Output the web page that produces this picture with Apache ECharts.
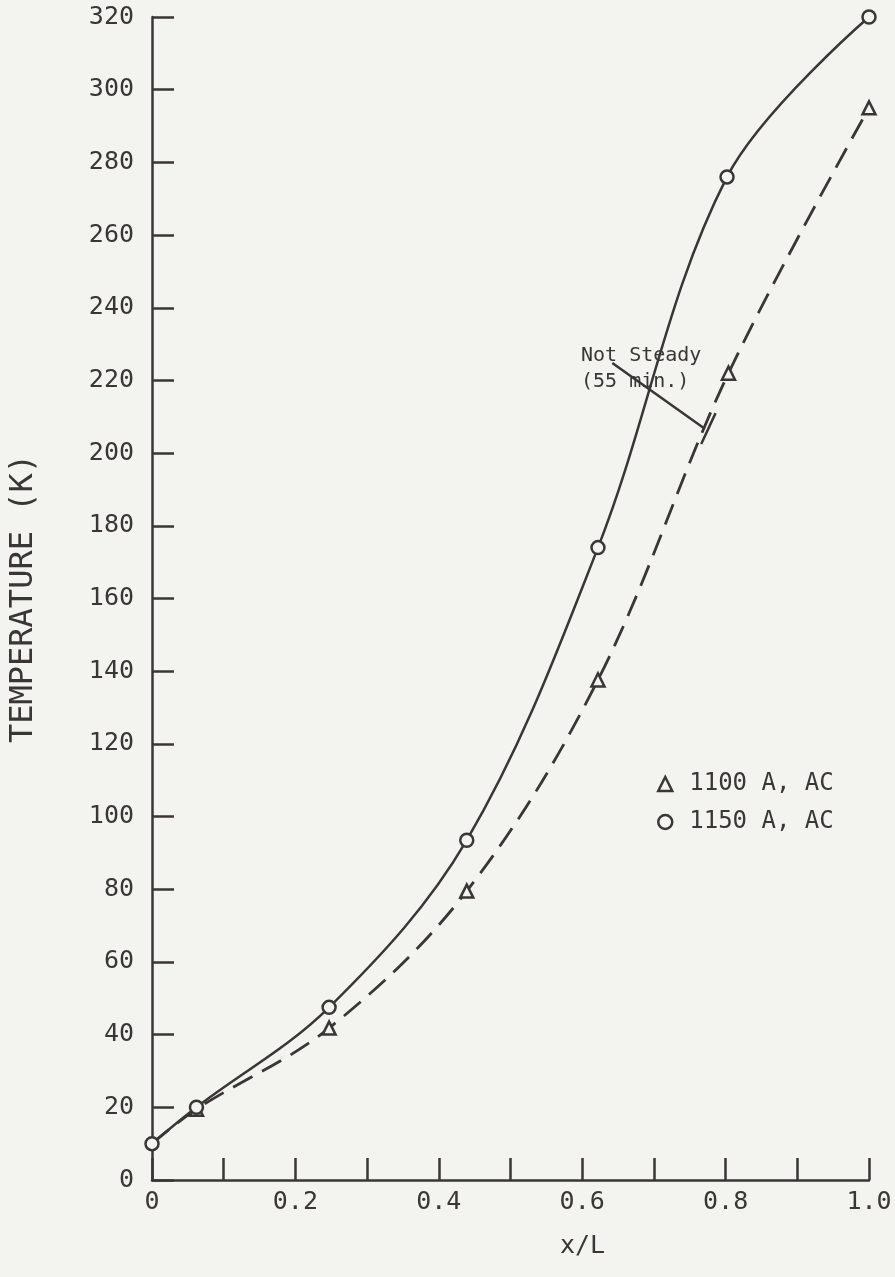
<!DOCTYPE html>
<html>
<head>
<meta charset="utf-8">
<script src="https://cdn.jsdelivr.net/npm/echarts@6/dist/echarts.min.js"></script>
<style>
  html, body { margin: 0; padding: 0; background: #f3f3ef; }
  #chart { width: 895px; height: 1277px; }
</style>
</head>
<body>
<div id="chart"></div>
<script>
// x/L positions
var xPos1150 = [0, 0.062, 0.247, 0.439, 0.622, 0.802, 1.0];
var temp1150 = [10, 20, 47.5, 93.5, 174, 276, 320];
var xPos1100 = [0, 0.062, 0.247, 0.439, 0.622, 0.804, 1.0];
var temp1100 = [10, 19.5, 41.8, 79.5, 137.6, 222, 295];
var seriesNames = ['1100 A, AC', '1150 A, AC'];
var yTicks = [0, 320, 20];
var xTicks = [0, 1.0, 0.1];

var ink = '#3a3636';
var mono = 'DejaVu Sans Mono';

function pairs(xs, ys){
	var out = [];
	for(var i = 0; i < xs.length; i++){
		out.push([xs[i], ys[i]]);
	}
	return out;
}

var data1100 = pairs(xPos1100, temp1100);
// first point hidden under the circle
data1100[0] = {value: data1100[0], symbolSize: 0};

var chart = echarts.init(document.getElementById('chart'));
var option = {
	backgroundColor: '#f3f3ef',
	animation: false,
	grid: {left: 148, right: 26, top: 17, bottom: 97},
	legend: {
		orient: 'vertical',
		left: 652,
		top: 767,
		itemGap: 14,
		itemWidth: 14,
		itemHeight: 14,
		textStyle: {fontFamily: mono, fontSize: 24, color: ink, padding: [0, 0, 0, 12]},
		itemStyle: {color: '#f3f3ef', borderColor: ink, borderWidth: 2.5},
		data: [
			{name: seriesNames[0], icon: 'triangle'},
			{name: seriesNames[1], icon: 'circle'}
		]
	},
	xAxis: {
		type: 'value',
		min: xTicks[0], max: xTicks[1], interval: xTicks[2],
		splitLine: {show: false},
		axisLine: {lineStyle: {color: ink, width: 2.5}},
		axisTick: {inside: true, length: 22, lineStyle: {color: ink, width: 2.5}},
		axisLabel: {
			fontFamily: mono, fontSize: 25, color: ink, margin: 10,
			formatter: function(v){
				var k = Math.round(v * 10);
				if(k === 0) return '0';
				if(k % 2 !== 0) return '';
				return (k / 10).toFixed(1);
			}
		}
	},
	yAxis: {
		type: 'value',
		min: yTicks[0], max: yTicks[1], interval: yTicks[2],
		name: 'TEMPERATURE (K)',
		nameLocation: 'middle',
		nameGap: 112,
		nameTextStyle: {fontFamily: mono, fontSize: 32, color: ink},
		splitLine: {show: false},
		axisLine: {lineStyle: {color: ink, width: 2.5}},
		axisTick: {inside: true, length: 22, lineStyle: {color: ink, width: 2.5}},
		axisLabel: {fontFamily: mono, fontSize: 25, color: ink, margin: 18}
	},
	graphic: [
		{type: 'text', left: 581, top: 343,
		 style: {text: 'Not Steady\n(55 min.)', font: '20px "DejaVu Sans Mono"', fill: ink, lineHeight: 26}},
		{type: 'text', left: 560, top: 1234,
		 style: {text: 'x/L', font: '25px "DejaVu Sans Mono"', fill: ink}}
	],
	series: [
		{
			name: seriesNames[0],
			type: 'line',
			smooth: 0.35,
			symbol: 'triangle',
			symbolSize: 13,
			color: ink,
			itemStyle: {color: '#f3f3ef', borderColor: ink, borderWidth: 2.5},
			lineStyle: {color: ink, width: 2.8, type: [22, 11]},
			data: data1100,
			z: 2
		},
		{
			name: seriesNames[1],
			type: 'line',
			smooth: 0.35,
			symbol: 'circle',
			symbolSize: 13,
			color: ink,
			itemStyle: {color: '#f3f3ef', borderColor: ink, borderWidth: 2.5},
			lineStyle: {color: ink, width: 2.5},
			data: pairs(xPos1150, temp1150),
			z: 3,
			markLine: {
				silent: true,
				symbol: 'none',
				label: {show: false},
				lineStyle: {color: ink, width: 2.5, type: 'solid'},
				data: [
					[{coord: [0.642, 224.8]}, {coord: [0.771, 206.7]}],
					[{coord: [0.766, 202.5]}, {coord: [0.786, 211]}]
				]
			}
		}
	]
};
chart.setOption(option);
</script>
</body>
</html>
